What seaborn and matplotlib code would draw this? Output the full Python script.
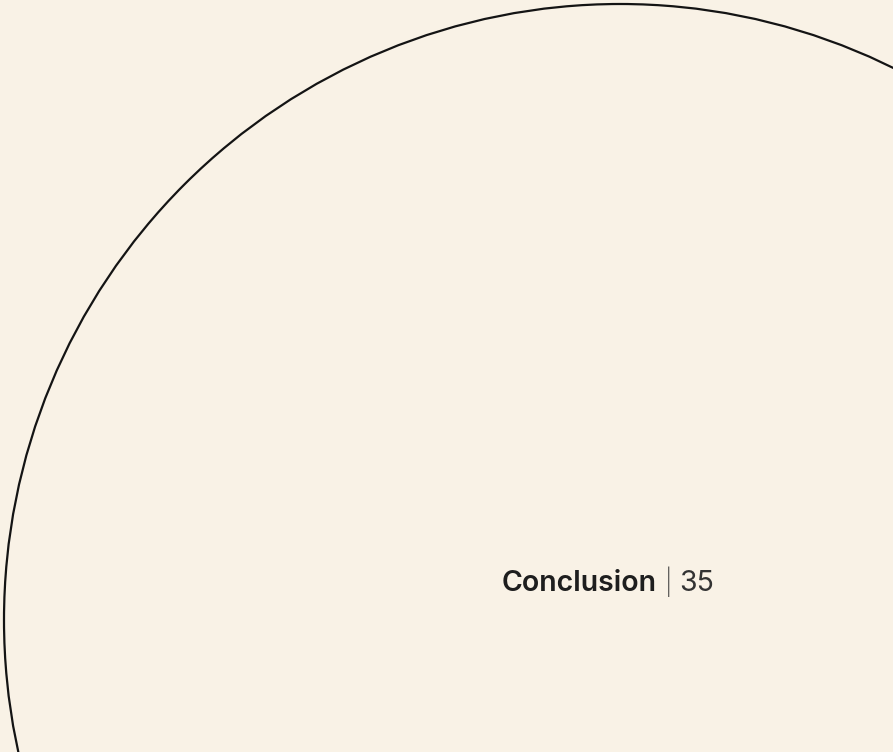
import numpy as np
import pandas as pd
import matplotlib
matplotlib.use("Agg")
import matplotlib.pyplot as plt
import seaborn as sns
from matplotlib.patches import Circle

# page content
section_title = "Conclusion"
page_number = "35"

# decorative circle (centre and radius, page pixels)
circle_center = (620, 620)
circle_radius = 616

sns.set_theme(style="white")
plt.rcParams['font.family'] = ['Inter', 'DejaVu Sans']

bg = "#f9f2e6"
fig = plt.figure(figsize=(8.93, 7.52), dpi=100, facecolor=bg)
ax = fig.add_axes([0, 0, 1, 1])
ax.set_facecolor(bg)
ax.set_xlim(0, 893)
ax.set_ylim(752, 0)
ax.set_aspect("equal")
ax.axis("off")

ring = Circle(circle_center, circle_radius, fill=False, edgecolor="#141414", linewidth=1.6)
ax.add_patch(ring)

# footer label
inv = ax.transData.inverted()
t1 = ax.text(502, 591, section_title, fontsize=20.5, fontweight="semibold", color="#1e1e1e",
             ha="left", va="baseline")
fig.canvas.draw()
x_end = t1.get_window_extent().transformed(inv).x1
t2 = ax.text(x_end + 8, 591, "|", fontsize=18.5, fontweight="light", color="#333333",
             ha="left", va="baseline")
fig.canvas.draw()
x_end = t2.get_window_extent().transformed(inv).x1
ax.text(x_end + 7, 591, page_number, fontsize=20.5, fontweight="normal", color="#333333",
        ha="left", va="baseline")

fig.savefig("out.png", dpi=100, facecolor=bg)
